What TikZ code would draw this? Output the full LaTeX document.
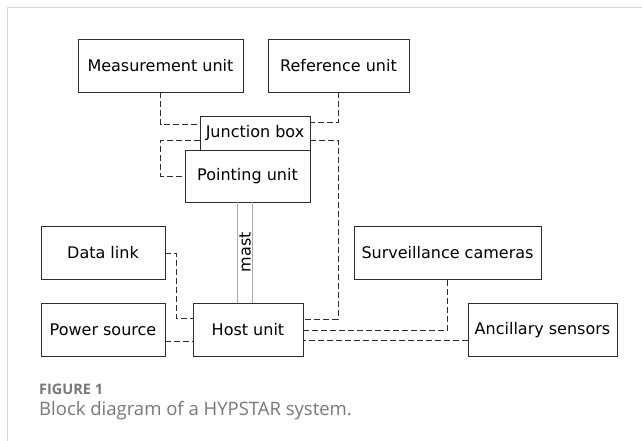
\documentclass[tikz,border=0pt]{standalone}
\usepackage{fontspec}
\setmainfont{DejaVu Sans}
\newfontfamily\capfont{Open Sans}
\usetikzlibrary{positioning}
\definecolor{linegray}{RGB}{45,45,45}
\definecolor{mastgray}{RGB}{170,170,170}
\definecolor{capgray}{RGB}{120,120,120}
\definecolor{framegray}{RGB}{215,215,215}

\begin{document}
\begin{tikzpicture}
[x=1pt, y=-1pt, font=\fontsize{16}{19}\selectfont,
 block/.style={draw=linegray, line width=0.8pt, inner sep=0pt, minimum height=53pt},
 link/.style={draw=linegray, line width=1pt, dash pattern=on 6pt off 3pt},
 mastline/.style={draw=mastgray, line width=1pt}]
\useasboundingbox (0,0) rectangle (642,441);
\draw[framegray, line width=1.5pt] (642,7.5) -- (7.5,7.5) -- (7.5,441);

% top row
\node[block, minimum width=165pt] (meas) at (160.5,65.5) {Measurement unit};
\node[block, minimum width=141pt] (ref) at (338.5,65.5) {Reference unit};

% head on the mast
\node[block, minimum width=110pt, minimum height=34pt] (junc) at (255,133) {Junction box};
\node[block, minimum width=125pt, minimum height=52pt] (point) at (247.5,176) {Pointing unit};

% ground level
\node[block, minimum width=124pt] (data) at (103,253) {Data link};
\node[block, minimum width=124pt] (power) at (103,330) {Power source};
\node[block, minimum width=110pt] (host) at (248,330) {Host unit};
\node[block, minimum width=187pt] (surv) at (447.5,253) {Surveillance cameras};
\node[block, minimum width=149pt] (anc) at (542.5,330) {Ancillary sensors};

% mast
\draw[mastline] ([xshift=-10.5pt]point.south) -- ([xshift=-11pt]host.north);
\draw[mastline] ([xshift=4.5pt]point.south) -- ([xshift=4pt]host.north);
\node[rotate=90] (mast) at (245,252) {mast};

% cables
\draw[link] (meas.south) |- ([yshift=8pt]junc.west);
\draw[link] (ref.south) |- ([yshift=10pt]junc.east);
\draw[link] ([yshift=-7pt]junc.west) -- ++(-39,0) |- (point.west);
\draw[link] ([yshift=-7pt]junc.east) -| ([xshift=35pt,yshift=11pt]host.east) -- ([yshift=11pt]host.east);
\draw[link] (data.east) -| ([xshift=-16pt,yshift=12pt]host.west) -- ([yshift=12pt]host.west);
\draw[link] ([yshift=-11pt]power.east) -- ([yshift=-11pt]host.west);
\draw[link] (surv.south) |- (host.east);
\draw[link] ([yshift=-10pt]anc.west) -- ([yshift=-10pt]host.east);

% caption
\node[anchor=base west, inner sep=0pt, text=capgray, font=\capfont\bfseries\fontsize{14.5}{17}\selectfont] (fig) at (39,394) {FIGURE 1};
\node[anchor=base west, inner sep=0pt, text=capgray, font=\capfont\fontsize{18.5}{22}\selectfont] (cap) at (39,415) {Block diagram of a HYPSTAR system.};
\end{tikzpicture}
\end{document}
